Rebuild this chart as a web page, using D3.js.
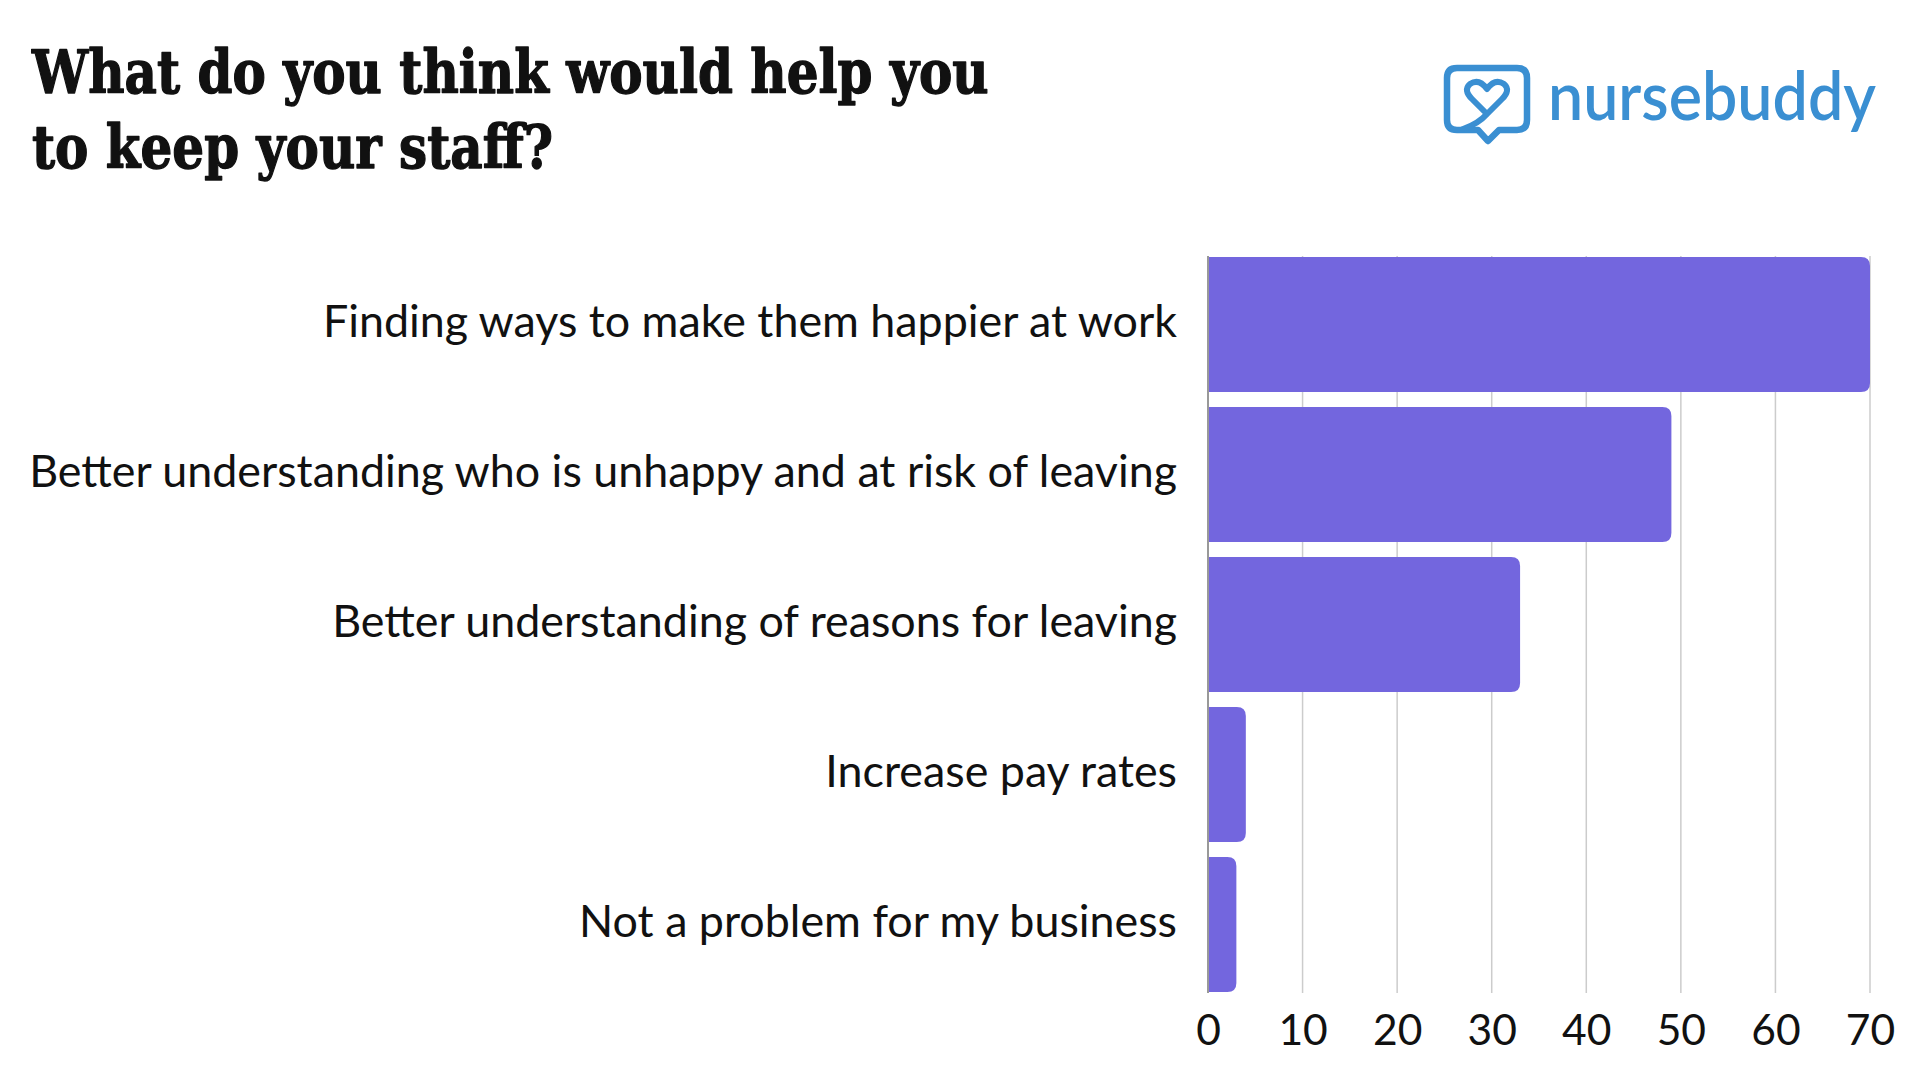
<!DOCTYPE html>
<html><head><meta charset="utf-8">
<script src="https://cdn.jsdelivr.net/npm/d3@7"></script>
<style>
html,body{margin:0;padding:0;background:#fff;}
svg{display:block;}
</style></head>
<body>
<svg id="chart" width="1920" height="1080"></svg>
<script>
const titleLines = ["What do you think would help you", "to keep your staff?"];
const categories = [
  "Finding ways to make them happier at work",
  "Better understanding who is unhappy and at risk of leaving",
  "Better understanding of reasons for leaving",
  "Increase pay rates",
  "Not a problem for my business"
];
const values = [70, 49, 33, 4, 3];
const tickValues = [0, 10, 20, 30, 40, 50, 60, 70];
const brandName = "nursebuddy";

const svg = d3.select("#chart");
const barColor = "#7366de";
const brandColor = "#3a8fd2";

const x = d3.scaleLinear().domain([0, 70]).range([1208, 1870]);
const y = d3.scaleBand().domain(categories).range([257, 992]).paddingInner(0.1).paddingOuter(0);

// gridlines
svg.append("g").selectAll("line").data(tickValues.slice(1)).join("line")
  .attr("x1", d => x(d)).attr("x2", d => x(d))
  .attr("y1", 256).attr("y2", 993)
  .attr("stroke", "#cccccc").attr("stroke-width", 1.5);

// bars with rounded right end
function barPath(x0, x1, y0, h, r) {
  r = Math.min(r, (x1 - x0) / 2);
  return `M${x0},${y0}H${x1 - r}Q${x1},${y0} ${x1},${y0 + r}V${y0 + h - r}Q${x1},${y0 + h} ${x1 - r},${y0 + h}H${x0}Z`;
}
svg.append("g").selectAll("path").data(categories).join("path")
  .attr("d", (c, i) => barPath(x(0), x(values[i]), y(c), y.bandwidth(), 9))
  .attr("fill", barColor);

// baseline axis
svg.append("line").attr("x1", x(0)).attr("x2", x(0)).attr("y1", 256).attr("y2", 993)
  .attr("stroke", "#999").attr("stroke-width", 2);

// category labels
const labelFont = "Lato, 'Open Sans', sans-serif";
const labels = svg.append("g").selectAll("text").data(categories).join("text")
  .attr("x", 1177).attr("y", c => y(c) + y.bandwidth() / 2 - 5)
  .attr("text-anchor", "end").attr("dominant-baseline", "central")
  .attr("font-family", labelFont).attr("font-size", 38).attr("fill", "#111")
  .text(c => c);
// fit longest label width
let maxW = 0;
labels.each(function(){ maxW = Math.max(maxW, this.getComputedTextLength()); });
const fs = 38 * 1148 / maxW;
labels.attr("font-size", fs);

// x axis tick labels
const xAxis = d3.axisBottom(x).tickValues(tickValues).tickSize(0).tickPadding(0).tickFormat(d3.format("d"));
const ax = svg.append("g").attr("transform", "translate(0,1015)").call(xAxis);
ax.select(".domain").remove();
ax.selectAll("text").attr("font-family", labelFont).attr("font-size", fs * 0.95)
  .attr("fill", "#111").attr("dy", "0.71em");

// title
const tg = svg.append("g");
const tTexts = tg.selectAll("text").data(titleLines).join("text")
  .attr("x", 0).attr("y", (d, i) => i * 75)
  .attr("font-family", "'DejaVu Serif', serif").attr("font-weight", "bold")
  .attr("font-size", 60).attr("fill", "#111")
  .attr("stroke", "#111").attr("stroke-width", 1.4).attr("stroke-linejoin", "round")
  .text(d => d);
const w1 = tTexts.nodes()[0].getComputedTextLength();
const sx = 957 / w1;
tg.attr("transform", `translate(32,93) scale(${sx},1)`);

// logo
const lg = svg.append("g");
lg.append("path")
  .attr("d", "M1457,68 H1517 Q1527,68 1527,78 V120 Q1527,130 1517,130 H1499 L1488,141 L1478,130 H1457 Q1447,130 1447,120 V78 Q1447,68 1457,68 Z")
  .attr("fill", "none").attr("stroke", brandColor).attr("stroke-width", 6.5).attr("stroke-linejoin", "round");
lg.append("path")
  .attr("d", "M1487,114 L1472,99 Q1463,90 1470,84 Q1479,78 1487,89 Q1495,78 1504,84 Q1511,90 1502,99 L1487,114 Q1478,124 1463,129")
  .attr("fill", "none").attr("stroke", brandColor).attr("stroke-width", 6).attr("stroke-linejoin", "round").attr("stroke-linecap", "round");
lg.append("text").attr("x", 1548).attr("y", 120)
  .attr("font-family", "Lato, sans-serif").attr("font-weight", 600)
  .attr("font-size", 68).attr("fill", brandColor)
  .attr("textLength", 328).attr("lengthAdjust", "spacingAndGlyphs")
  .text(brandName);
</script>
</body></html>
